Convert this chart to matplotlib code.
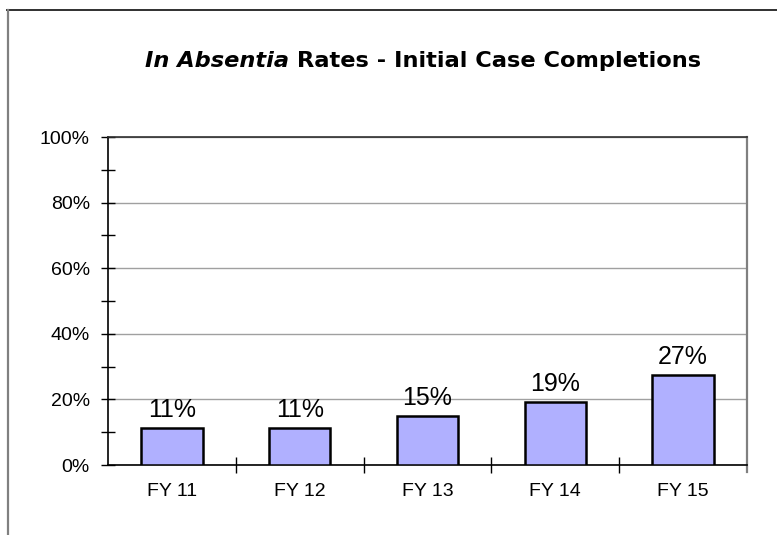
import matplotlib
matplotlib.use("Agg")
import matplotlib.pyplot as plt
from matplotlib.lines import Line2D
import numpy as np

categories = ["FY 11", "FY 12", "FY 13", "FY 14", "FY 15"]
rates = [11.2, 11.4, 15.0, 19.1, 27.4]
labels = ["11%", "11%", "15%", "19%", "27%"]
yticks = [0, 20, 40, 60, 80, 100]

plt.rcParams['font.family'] = ['Liberation Sans', 'DejaVu Sans']
W, H = 777, 535
fig = plt.figure(figsize=(W/100, H/100), dpi=100)

def fx(px): return px / W
def fy(py): return 1 - py / H

# outer border (top dark, left grey)
fig.lines.append(Line2D([fx(7), 1.0], [fy(10), fy(10)], transform=fig.transFigure,
                        color='#303030', linewidth=1.4))
fig.lines.append(Line2D([fx(7.5), fx(7.5)], [fy(10), 0], transform=fig.transFigure,
                        color='#808080', linewidth=1.6))

ax = fig.add_axes([fx(108), fy(465), fx(747) - fx(108), fy(137) - fy(465)])
x = np.arange(len(categories))
ax.bar(x, rates, width=0.48, color='#B0B0FF', edgecolor='black', linewidth=1.8, zorder=3)
for xi, r, lab in zip(x, rates, labels):
    ax.text(xi, r + 1.8, lab, ha='center', va='bottom', fontsize=18)

ax.set_xlim(-0.5, len(categories) - 0.5)
ax.set_ylim(0, 100)
ax.set_yticks(yticks)
ax.set_yticklabels([f"{t}%" for t in yticks], fontsize=14)
ax.set_yticks(np.arange(10, 100, 20), minor=True)
ax.set_xticks(x)
ax.set_xticklabels(categories, fontsize=14)
ax.set_xticks(np.arange(0.5, len(categories) - 0.5, 1), minor=True)
ax.tick_params(axis='x', which='major', length=0, pad=13)
ax.tick_params(axis='x', which='minor', direction='inout', length=12, width=1)
ax.tick_params(axis='y', which='both', direction='inout', length=10, width=1, pad=8)
ax.yaxis.grid(True, color='#A0A0A0', linewidth=1, zorder=0)
ax.set_axisbelow(True)
for s in ['left', 'bottom']:
    ax.spines[s].set_color('black')
    ax.spines[s].set_linewidth(1.2)
ax.spines['right'].set_color('#808080')
ax.spines['right'].set_linewidth(1.6)
ax.spines['right'].set_bounds(-2.2, 100)
ax.spines['top'].set_color('#303030')
ax.spines['top'].set_linewidth(1.2)

t1 = fig.text(0, 0, "In Absentia", fontsize=16.2, fontweight='bold', style='italic',
              family=['DejaVu Sans'])
t2 = fig.text(0, 0, " Rates - Initial Case Completions", fontsize=16.2, fontweight='bold',
              family=['DejaVu Sans'])
fig.canvas.draw()
r = fig.canvas.get_renderer()
w1 = t1.get_window_extent(r).width
w2 = t2.get_window_extent(r).width
cx = 423
x0 = cx - (w1 + w2) / 2
ybase = fy(67)
t1.set_va('baseline'); t2.set_va('baseline')
t1.set_position((x0 / W, ybase))
t2.set_position(((x0 + w1) / W, ybase))

fig.savefig("out.png", dpi=100)
